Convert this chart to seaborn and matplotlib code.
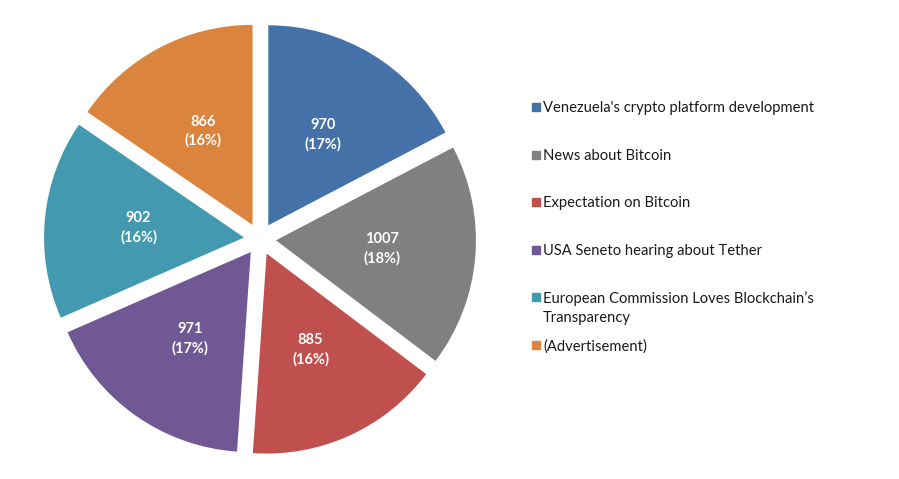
import matplotlib.pyplot as plt
import seaborn as sns
from matplotlib.patches import Rectangle

sns.set_theme(style="white")
plt.rcParams['font.family'] = ['Lato', 'DejaVu Sans']

topics = ["Venezuela's crypto platform development", "News about Bitcoin", "Expectation on Bitcoin",
          "USA Seneto hearing about Tether", "European Commission Loves Blockchain\u2019s\nTransparency",
          "(Advertisement)"]
counts = [970, 1007, 885, 971, 902, 866]
shares = [17, 18, 16, 17, 16, 16]  # percentages as printed on the chart
colors = ['#4472A8', '#808080', '#C0504D', '#6F5894', '#4299B0', '#DB843D']

figure = plt.figure(figsize=(8.99, 4.79), dpi=100)
axis = figure.add_axes([30 / 899, (479 - 469) / 479, 460 / 899, 460 / 479])

wedges, texts, autotexts = axis.pie(counts, colors=colors, startangle=90, counterclock=False,
                                    explode=[0.08] * len(counts), autopct='%1.0f', pctdistance=0.53,
                                    wedgeprops={'linewidth': 0})
for t, count, share in zip(autotexts, counts, shares):
    t.set_text(f"{count}\n({share}%)")
    t.set_color('white')
    t.set_fontweight('bold')
    t.set_fontsize(10.5)
    t.set_linespacing(1.4)
axis.set_xlim(-1.15, 1.15)
axis.set_ylim(-1.15, 1.15)
axis.set_aspect('equal')
axis.axis('off')

# legend drawn by hand so the wrapped entry keeps the even spacing
for i, (topic, color) in enumerate(zip(topics, colors)):
    y_px = 107 + i * 47.6
    figure.patches.append(Rectangle((532 / 899, 1 - (y_px + 4) / 479), 8 / 899, 8 / 479,
                                    transform=figure.transFigure, color=color, figure=figure))
    figure.text(543 / 899, 1 - (y_px - 6) / 479, topic, fontsize=10.6, va='top', ha='left',
                color='#1a1a1a', linespacing=1.45)

plt.savefig('out.png')
